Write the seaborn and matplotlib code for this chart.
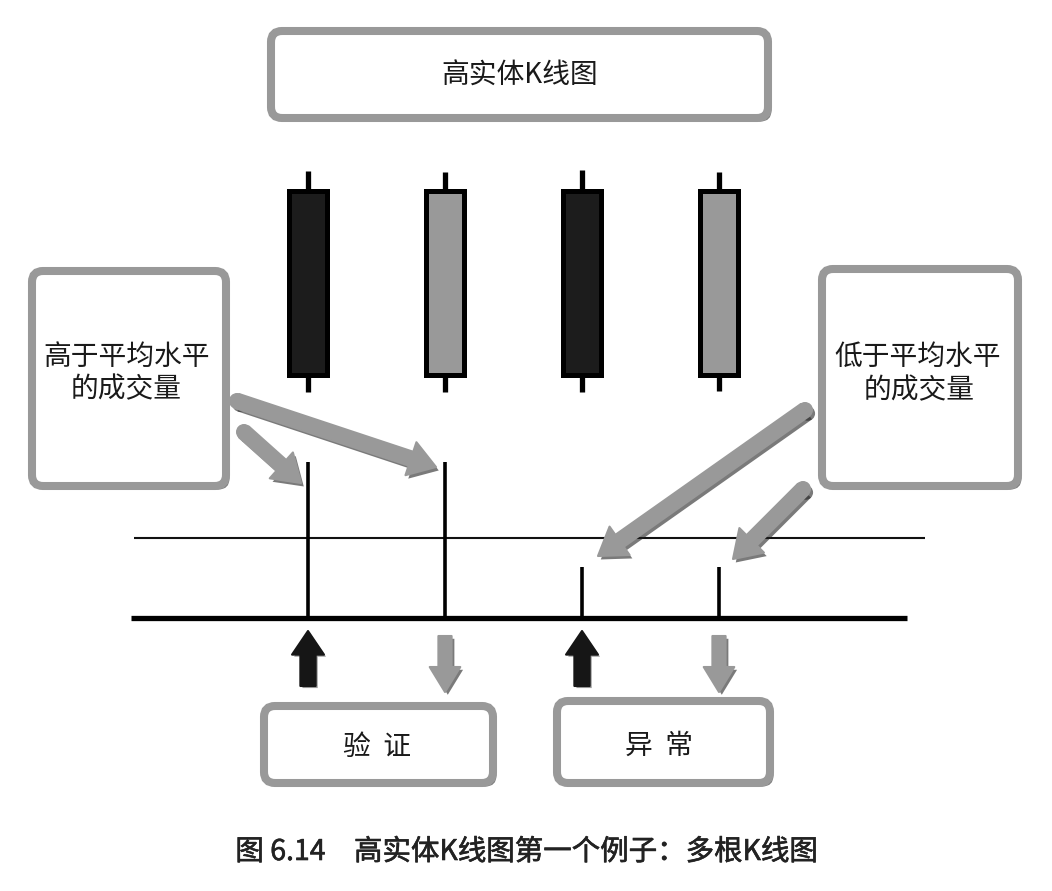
import matplotlib
matplotlib.use("Agg")
import matplotlib.pyplot as plt
import matplotlib.patheffects as pe
import matplotlib.transforms as mtransforms
from matplotlib.patches import FancyBboxPatch, FancyArrowPatch, Circle
import numpy as np
import seaborn as sns

# ---- data ----
candle_idx = [0, 1, 2, 3]
candle_open = [21.0, 10.0, 21.0, 10.0]
candle_close = [10.0, 21.0, 10.0, 21.0]
candle_high = [22.15, 22.1, 22.2, 22.1]
candle_low = [9.0, 9.0, 9.0, 9.1]
volume = [1.95, 1.95, 0.64, 0.64]
avg_volume = 1.0
direction = ["up", "down", "up", "down"]

title_text = "高实体K线图"
left_lines = ["高于平均水平", "的成交量"]
right_lines = ["低于平均水平", "的成交量"]
bottom_labels = ["验  证", "异  常"]
caption = "图 6.14　高实体K线图第一个例子：多根K线图"

W, H = 1052, 891
sns.set_theme(style="white")
plt.rcParams["font.family"] = ["Noto Sans CJK SC", "DejaVu Sans"]

fig = plt.figure(figsize=(W / 100, H / 100), dpi=100)
fig.patch.set_facecolor("white")


def px_axes(left, top, right, bottom, z):
    a = fig.add_axes([left / W, 1 - bottom / H, (right - left) / W, (bottom - top) / H])
    a.set_zorder(z)
    a.patch.set_visible(False)
    a.set_axis_off()
    return a


def shadow(dx=2, dy=-2.5, alpha=0.6):
    return [pe.SimplePatchShadow(offset=(dx, dy), shadow_rgbFace="#222222", alpha=alpha),
            pe.Normal()]


# main overlay axes in pixel coordinates
ax = px_axes(0, 0, W, H, 5)
ax.set_xlim(0, W)
ax.set_ylim(H, 0)

# candle axes
x0, step = 308, 137
ax_c = px_axes(x0 - 0.5 * step, 156.9, x0 + 3.5 * step, 409.1, 1)
ax_c.set_xlim(-0.5, 3.5)
ax_c.set_ylim(8, 23)

o = np.array(candle_open)
c = np.array(candle_close)
colors = ["#1c1c1c" if cc < oo else "#999999" for oo, cc in zip(o, c)]
ax_c.vlines(candle_idx, candle_low, candle_high, color="black", lw=3.8, zorder=1)
ax_c.bar(candle_idx, np.abs(c - o), bottom=np.minimum(o, c), width=0.28,
         color=colors, edgecolor="black", linewidth=3.6, zorder=2)

# volume axes
ax_v = px_axes(x0 - 1.3 * step, 442, x0 + 4.6 * step, 618, 2)
ax_v.set_xlim(-1.3, 4.6)
ax_v.set_ylim(0, 2.2)
ax_v.hlines(avg_volume, candle_idx[0] - 1.27, candle_idx[-1] + 1.5, color="#111111", lw=1.5)
ax_v.hlines(0, candle_idx[0] - 1.29, candle_idx[-1] + 1.37, color="black", lw=3.8,
            clip_on=False)
ax_v.vlines(candle_idx, 0, volume, color="black", lw=2.6, clip_on=False)

# direction arrows under volume bars
blend = mtransforms.blended_transform_factory(ax_v.transData, ax.transData)
for i, d in zip(candle_idx, direction):
    if d == "up":
        arr = FancyArrowPatch((i, 686), (i, 631), transform=blend,
                              arrowstyle="simple,head_length=17,head_width=23,tail_width=11",
                              color="#161616", shrinkA=0, shrinkB=0, joinstyle="round",
                              linewidth=1.5, clip_on=False, path_effects=shadow(1.5, -1.5, 0.45))
    else:
        arr = FancyArrowPatch((i, 636), (i, 692), transform=blend,
                              arrowstyle="simple,head_length=18,head_width=22,tail_width=9.5",
                              color="#999999", shrinkA=0, shrinkB=0, joinstyle="round",
                              linewidth=1.5, clip_on=False, path_effects=shadow(2, -2, 0.6))
    ax_v.add_patch(arr)


# boxes
def box(l, t, r, b):
    p = FancyBboxPatch((l, t), r - l, b - t, boxstyle="round,pad=0,rounding_size=11",
                       facecolor="white", edgecolor="#999999", linewidth=5.8,
                       path_effects=shadow(2.5, -2.5, 0.6))
    ax.add_patch(p)


box(271, 31, 768, 118)
box(32, 271, 226, 486)
box(822, 269, 1018, 486)
box(264, 706, 493, 783)
box(557, 701, 770, 783)

tkw = dict(ha="center", va="center", fontsize=20, color="#1a1a1a", fontweight="light")
ax.text(520, 76, title_text, **tkw)
ax.text(127, 357, left_lines[0], **tkw)
ax.text(126, 389, left_lines[1], **tkw)
ax.text(918, 357, right_lines[0], **tkw)
ax.text(919, 390, right_lines[1], **tkw)
ax.text(377, 747, bottom_labels[0], **tkw)
ax.text(659, 746, bottom_labels[1], **tkw)

# big gray pointer arrows (rounded tails)
pointers = [((237, 401), (436, 467)), ((244, 432), (301, 483)),
            ((805, 410), (598, 556)), ((803, 489), (733, 559))]
for (sx, sy), (ex, ey) in pointers:
    ax.add_patch(Circle((sx, sy), 7.3, color="#999999", path_effects=shadow()))
    ax.add_patch(FancyArrowPatch((sx, sy), (ex, ey),
                                 arrowstyle="simple,head_length=19,head_width=25,tail_width=10.5",
                                 color="#999999", shrinkA=0, shrinkB=0, joinstyle="round",
                                 linewidth=1.5, path_effects=shadow()))

# caption
ax.text(527, 852, caption, ha="center", va="center", fontsize=20.5, color="#222222",
        path_effects=[pe.withStroke(linewidth=0.45, foreground="#222222")])

fig.savefig("out.png", dpi=100, facecolor="white")
